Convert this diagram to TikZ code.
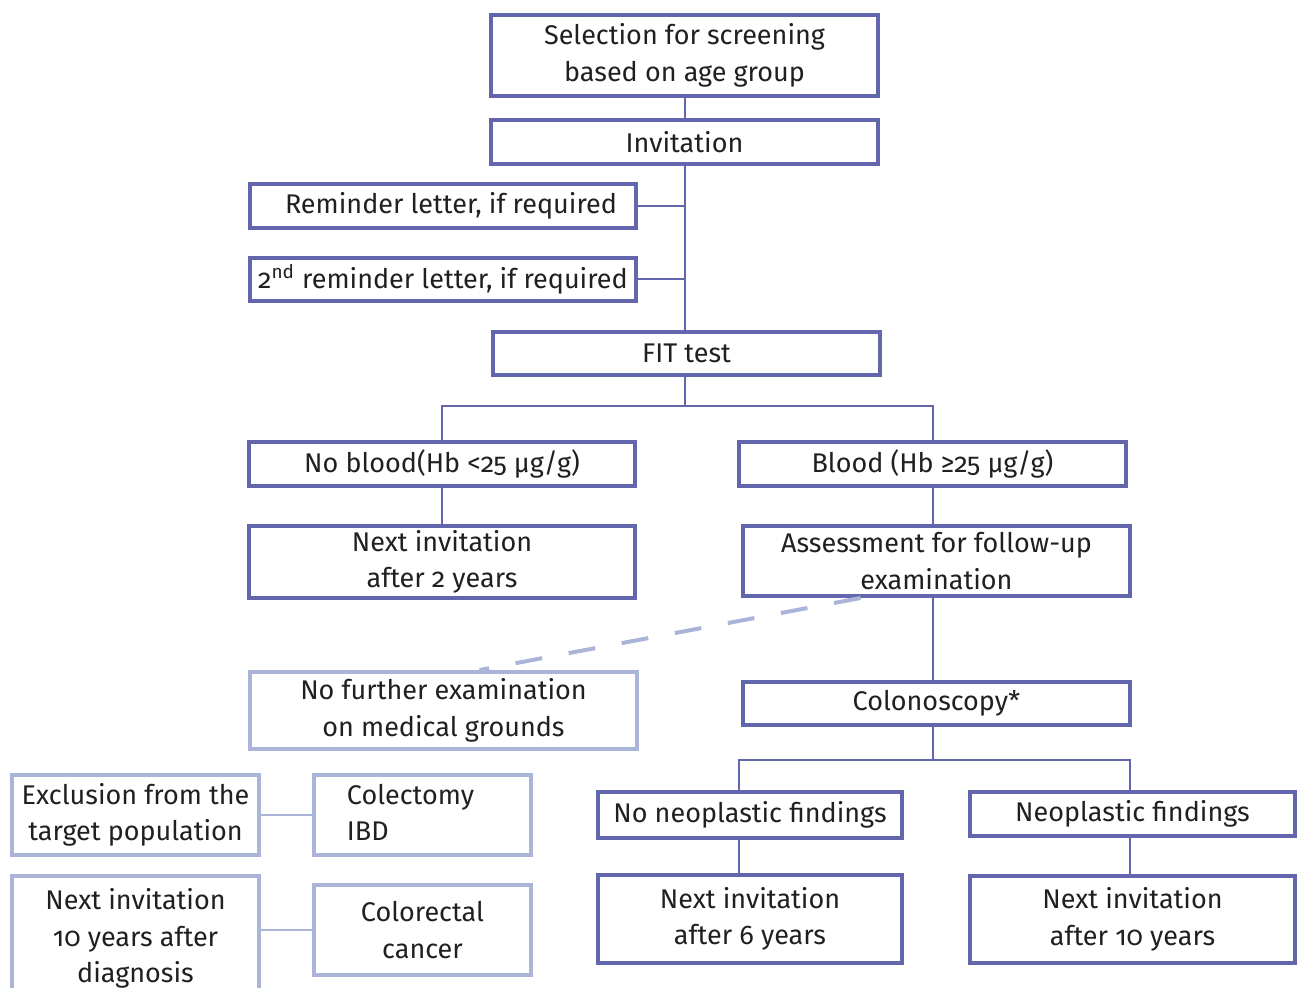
\documentclass[tikz,border=0pt]{standalone}
\usepackage{fontspec}
\setmainfont{Fira Sans}[Numbers=OldStyle]
\usetikzlibrary{positioning}
\definecolor{darkline}{HTML}{6266AC}
\definecolor{paleline}{HTML}{A9B4D8}
\definecolor{inktext}{HTML}{231F20}

\begin{document}
\begin{tikzpicture}[
                x=0.5pt, y=-0.5pt,
                font=\fontsize{13.5}{18.2}\selectfont,
                text=inktext,
                stage/.style={draw=darkline, line width=2pt, fill=white, inner sep=0pt, align=center},
                aside/.style={draw=paleline, line width=2pt, fill=white, inner sep=0pt, align=center},
                wire/.style={darkline, line width=1pt},
                pale/.style={paleline, line width=1pt},
                skip/.style={paleline, line width=2pt, dash pattern=on 13.5pt off 13.5pt}
            ]
                \clip (0,0) rectangle (1300,988);
                \node[stage, minimum width=193.5pt, minimum height=40.5pt] (select) at (684.5,55.5) {Selection for screening\\based on age group};
                \node[stage, minimum width=193.5pt, minimum height=22pt] (invite) at (684.5,142) {Invitation};
                \node[stage, minimum width=193pt, minimum height=22pt] (remind) at (443,206) {\hspace*{8pt}Reminder letter, if required};
                \node[stage, minimum width=193pt, minimum height=21.5pt] (remindtwo) at (443,279.5) {2\textsuperscript{nd} reminder letter, if required};
                \node[stage, minimum width=193.5pt, minimum height=21.5pt] (fit) at (686.5,353.5) {FIT test};
                \node[stage, minimum width=193pt, minimum height=22pt] (noblood) at (442,464) {No blood(Hb <25 µg/g)};
                \node[stage, minimum width=193.5pt, minimum height=22pt] (blood) at (932.5,464) {Blood (Hb ≥25 µg/g)};
                \node[stage, minimum width=193pt, minimum height=36pt] (nexttwo) at (442,562) {Next invitation\\after 2 years};
                \node[stage, minimum width=193.5pt, minimum height=35pt] (assess) at (936.5,561) {Assessment for follow-up\\examination};
                \node[aside, minimum width=193.5pt, minimum height=38.5pt] (nofurther) at (443.5,710.5) {No further examination\\on medical grounds};
                \node[stage, minimum width=193.5pt, minimum height=21.5pt] (colono) at (936.5,703.5) {Colonoscopy*};
                \node[aside, minimum width=123.5pt, minimum height=40pt] (exclude) at (135.5,815) {Exclusion from the\\target population};
                \node[aside, minimum width=108.5pt, minimum height=40pt] (colectomy) at (422.5,815) {\hspace*{-12pt}\begin{tabular}{@{}l@{}}Colectomy\\IBD\end{tabular}};
                \node[aside, minimum width=123.5pt, minimum height=63pt] (nextdiag) at (135.5,939) {\raisebox{8pt}{\begin{tabular}{@{}c@{}}Next invitation\\10 years after\\diagnosis\end{tabular}}};
                \node[aside, minimum width=108.5pt, minimum height=45pt] (crc) at (422.5,930) {Colorectal\\cancer};
                \node[stage, minimum width=152pt, minimum height=23pt] (noneo) at (750,815) {No neoplastic findings};
                \node[stage, minimum width=162.5pt, minimum height=22pt] (neo) at (1132.5,814) {Neoplastic findings};
                \node[stage, minimum width=152pt, minimum height=44pt] (nextsix) at (750,919) {Next invitation\\after 6 years};
                \node[stage, minimum width=162.5pt, minimum height=43.5pt] (nextten) at (1132.5,919.5) {Next invitation\\after 10 years};
                % upper part
                \draw[wire] (select.south) -- (invite.north);
                \draw[wire] (invite.south) -- (fit.north -| invite.south);
                \draw[wire] (remind.east) -- (remind.east -| invite.south);
                \draw[wire] (remindtwo.east) -- (remindtwo.east -| invite.south);
                \draw[wire] (fit.south -| invite.south) -- ++(0,29) -| (noblood.north);
                \draw[wire] (fit.south -| invite.south) ++(0,29) -| (blood.north);
                \draw[wire] (noblood.south) -- (nexttwo.north);
                \draw[wire] (blood.south) -- (assess.north -| blood.south);
                \draw[wire] (assess.south -| blood.south) -- (colono.north -| blood.south);
                \draw[skip] ([xshift=-38pt]assess.south) -- ([xshift=18pt]nofurther.north);
                % colonoscopy results
                \draw[wire] (colono.south -| blood.south) -- ++(0,33) -| ([xshift=-5.5pt]noneo.north);
                \draw[wire] (colono.south -| blood.south) ++(0,33) -| ([xshift=-1.5pt]neo.north);
                \draw[wire] ([xshift=-5.5pt]noneo.south) -- ([xshift=-5.5pt]nextsix.north);
                \draw[wire] ([xshift=-1.5pt]neo.south) -- ([xshift=-1.5pt]nextten.north);
                % exclusions
                \draw[pale] (exclude.east) -- (colectomy.west);
                \draw[pale] (crc.west -| nextdiag.east) -- (crc.west);
            \end{tikzpicture}
\end{document}
